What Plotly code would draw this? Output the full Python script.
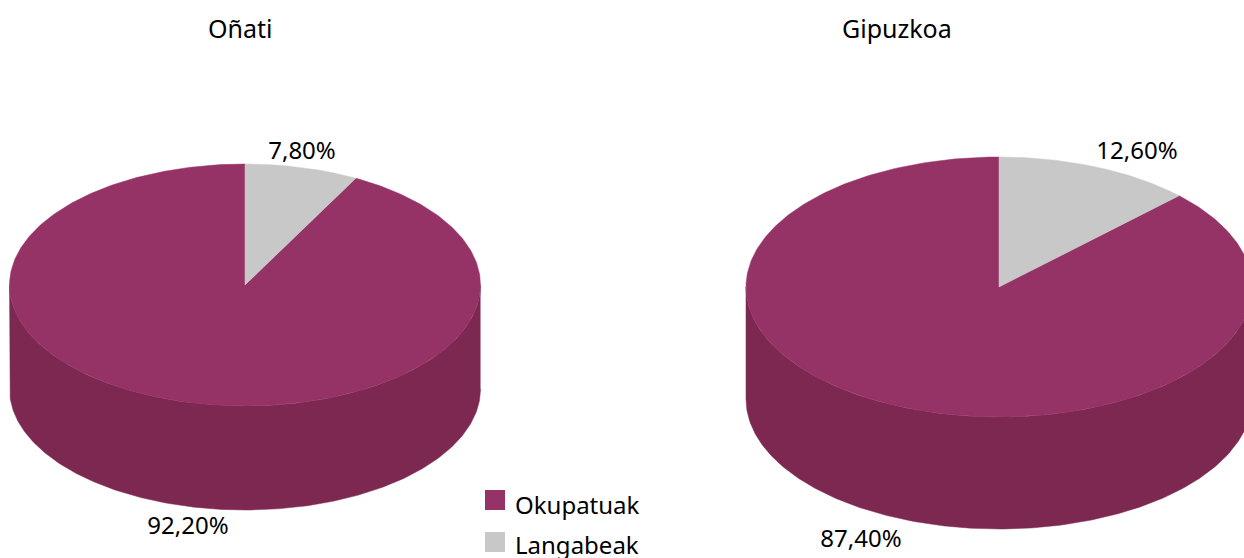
import numpy as np
import plotly.graph_objects as go

# ---- data ----
categories = ["Okupatuak", "Langabeak"]
regions = ["Oñati", "Gipuzkoa"]
onati_values = [92.2, 7.8]
gipuzkoa_values = [87.4, 12.6]
onati_labels = ["92,20%", "7,80%"]
gipuzkoa_labels = ["87,40%", "12,60%"]

# ---- style / layout ----
W, H = 1244, 558
FONT = "Noto Sans"
FS = 24
top_colors = {"Okupatuak": "#963366", "Langabeak": "#C8C8C8"}
side_colors = {"Okupatuak": "#7C2850", "Langabeak": "#9A9A9A"}
pies = [
    dict(name=regions[0], values=onati_values, labels=onati_labels,
         cx=245, cy=285, rx=235.5, ry=121, depth=104,
         title_x=240, label_pos=[(188, 528), (302, 153)]),
    dict(name=regions[1], values=gipuzkoa_values, labels=gipuzkoa_labels,
         cx=999, cy=287, rx=253, ry=130, depth=112,
         title_x=897, label_pos=[(861, 541), (1137, 153)]),
]


def rim(p, a, dy=0.0):
    return p["cx"] + p["rx"] * np.sin(a), p["cy"] - p["ry"] * np.cos(a) + dy


fig = go.Figure()

for p in pies:
    total = sum(p["values"])
    # the small slice starts at 12 o'clock; the large one fills the remainder
    order = sorted(range(len(categories)), key=lambda i: -i)
    start = 0.0
    spans = {}
    for i in order:
        end = start + 2 * np.pi * p["values"][i] / total
        spans[i] = (start, end)
        start = end

    # side wall: only the part of each slice on the front half is visible
    for i, (a0, a1) in spans.items():
        lo, hi = max(a0, np.pi / 2), min(a1, 3 * np.pi / 2)
        if hi <= lo:
            continue
        t = np.linspace(lo, hi, 240)
        xt, yt = rim(p, t)
        xb, yb = rim(p, t[::-1], p["depth"])
        fig.add_trace(go.Scatter(
            x=np.r_[xt, xb], y=np.r_[yt, yb], mode="lines", fill="toself",
            fillcolor=side_colors[categories[i]],
            line=dict(color=side_colors[categories[i]], width=0.5),
            hoverinfo="skip", showlegend=False))

    # top face
    for i in sorted(spans, key=lambda k: categories[k] == "Langabeak"):
        a0, a1 = spans[i]
        t = np.linspace(a0, a1, 400)
        x, y = rim(p, t)
        fig.add_trace(go.Scatter(
            x=np.r_[p["cx"], x, p["cx"]], y=np.r_[p["cy"], y, p["cy"]],
            mode="lines", fill="toself",
            fillcolor=top_colors[categories[i]],
            line=dict(color=top_colors[categories[i]], width=0.5),
            hoverinfo="skip", showlegend=False))

    # value labels
    fig.add_trace(go.Scatter(
        x=[q[0] for q in p["label_pos"]], y=[q[1] for q in p["label_pos"]],
        mode="text", text=p["labels"], textposition="middle center",
        textfont=dict(family=FONT, size=FS, color="#000000"),
        hoverinfo="skip", showlegend=False))

    # region title
    fig.add_annotation(x=p["title_x"], y=28, xref="x", yref="y", text=p["name"],
                       showarrow=False, xanchor="center", yanchor="middle",
                       font=dict(family=FONT, size=FS + 1, color="#000000"))

# legend
legend_y = [500, 542]
fig.add_trace(go.Scatter(
    x=[495, 495], y=legend_y, mode="markers",
    marker=dict(symbol="square", size=20,
                color=[top_colors[c] for c in categories], line=dict(width=0)),
    hoverinfo="skip", showlegend=False))
fig.add_trace(go.Scatter(
    x=[515, 515], y=[508, 548], mode="text", text=categories,
    textposition="middle right",
    textfont=dict(family=FONT, size=FS, color="#000000"),
    hoverinfo="skip", showlegend=False))

fig.update_layout(
    width=W, height=H, margin=dict(l=0, r=0, t=0, b=0),
    paper_bgcolor="#FFFFFF", plot_bgcolor="#FFFFFF", showlegend=False,
    xaxis=dict(range=[0, W], visible=False, fixedrange=True),
    yaxis=dict(range=[H, 0], visible=False, fixedrange=True),
)
fig.write_html("out.html", config=dict(displayModeBar=False),
               post_script="document.body.style.margin='0';document.body.style.overflow='hidden';")
